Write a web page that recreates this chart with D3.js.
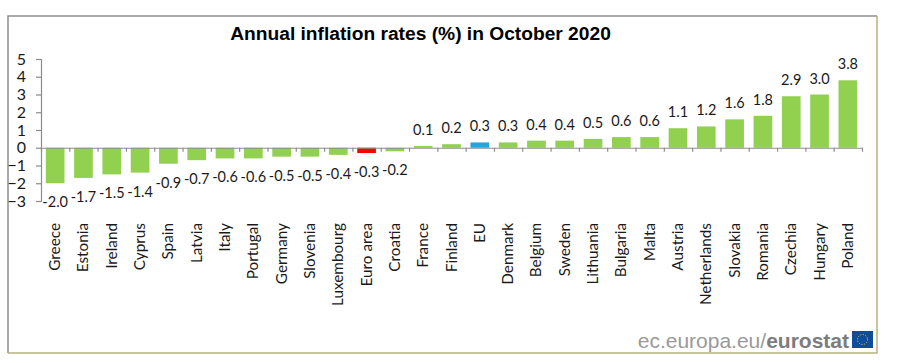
<!DOCTYPE html>
<html>
<head>
<meta charset="utf-8">
<script src="https://cdn.jsdelivr.net/npm/d3@7"></script>
<style>
    html, body { margin: 0; padding: 0; background: #fff; }
    svg { display: block; }
    .axis path, .axis line { stroke: #8c8c8c; stroke-width: 1.2; }
    .axis text, .bar-label, .cat-label { font-family: Lato, sans-serif; fill: #1a1a1a; }
</style>
</head>
<body>
<svg id="chart" width="900" height="363"></svg>
<script>
var countries = ["Greece", "Estonia", "Ireland", "Cyprus", "Spain", "Latvia", "Italy", "Portugal",
    "Germany", "Slovenia", "Luxembourg", "Euro area", "Croatia", "France", "Finland", "EU",
    "Denmark", "Belgium", "Sweden", "Lithuania", "Bulgaria", "Malta", "Austria", "Netherlands",
    "Slovakia", "Romania", "Czechia", "Hungary", "Poland"];
var rates = [-2.0, -1.7, -1.5, -1.4, -0.9, -0.7, -0.6, -0.6, -0.5, -0.5, -0.4, -0.3, -0.2,
    0.1, 0.2, 0.3, 0.3, 0.4, 0.4, 0.5, 0.6, 0.6, 1.1, 1.2, 1.6, 1.8, 2.9, 3.0, 3.8];
var yTicks = [-3, -2, -1, 0, 1, 2, 3, 4, 5];

var svg = d3.select("#chart");
var left = 41, right = 862, top_ = 59, bottom = 201;

// frame: grey on top/left, olive on right/bottom
svg.append("path").attr("d", "M8,353V16H877").attr("fill", "none").attr("stroke", "#8f8f8f").attr("stroke-width", 1.5);
svg.append("path").attr("d", "M877,16V353H8").attr("fill", "none").attr("stroke", "#b5b37e").attr("stroke-width", 1.5);

svg.append("text")
    .attr("x", 420.5).attr("y", 40)
    .attr("text-anchor", "middle")
    .style("font-family", "'Liberation Sans', Arial, sans-serif")
    .style("font-weight", "bold")
    .style("font-size", "19.2px")
    .text("Annual inflation rates (%)  in October 2020");

var xScale = d3.scaleBand().domain(countries).range([left, right]).paddingInner(0.34).paddingOuter(0.17);
var edgeScale = d3.scaleLinear().domain([0, countries.length]).range([left, right]);
var yScale = d3.scaleLinear().domain([-3, 5]).range([bottom, top_]);

// bars
svg.selectAll(".bar")
    .data(rates)
    .enter()
    .append("rect")
    .classed("bar", true)
    .attr("x", (d, i) => xScale(countries[i]))
    .attr("width", xScale.bandwidth())
    .attr("y", d => Math.min(yScale(d), yScale(0)))
    .attr("height", d => Math.abs(yScale(d) - yScale(0)))
    .attr("fill", (d, i) => countries[i] === "Euro area" ? "#ff0000" : countries[i] === "EU" ? "#1fa8dc" : "#92d050");

// y axis
svg.append("g")
    .classed("axis", true)
    .attr("transform", "translate(" + left + ",0)")
    .call(d3.axisLeft(yScale).tickValues(yTicks).tickSize(5).tickPadding(10).tickFormat(d3.format("d")))
    .selectAll("text")
    .style("font-size", "16px");

// x axis on the zero line, ticks between the categories
svg.append("g")
    .classed("axis", true)
    .attr("transform", "translate(0," + yScale(0) + ")")
    .call(d3.axisBottom(edgeScale).tickValues(d3.range(countries.length + 1)).tickSize(4).tickSizeOuter(0).tickFormat(""));

// value labels
svg.selectAll(".bar-label")
    .data(rates)
    .enter()
    .append("text")
    .classed("bar-label", true)
    .attr("x", (d, i) => xScale(countries[i]) + xScale.bandwidth() / 2)
    .attr("y", d => d < 0 ? yScale(d) + 24 : yScale(d) - 11)
    .attr("text-anchor", "middle")
    .style("font-size", "14.5px")
    .text(d => d3.format(".1f")(d).replace("−", "-"));

// category labels
svg.selectAll(".cat-label")
    .data(countries)
    .enter()
    .append("text")
    .classed("cat-label", true)
    .attr("transform", d => "translate(" + (xScale(d) + xScale.bandwidth() / 2 + 5) + ",223) rotate(-90)")
    .attr("text-anchor", "end")
    .style("font-size", "15.3px")
    .text(d => d);

// eurostat logo
var logo = svg.append("text")
    .attr("x", 849).attr("y", 348)
    .attr("text-anchor", "end")
    .style("font-family", "'Liberation Sans', Arial, sans-serif")
    .style("font-size", "21px")
    .style("fill", "#9a9a9a");
logo.append("tspan").text("ec.europa.eu/");
logo.append("tspan").style("font-weight", "bold").style("fill", "#7d7d7d").text("eurostat");

svg.append("rect").attr("x", 852).attr("y", 331).attr("width", 21).attr("height", 17).attr("fill", "#0f4c9c");
svg.append("circle").attr("cx", 862.5).attr("cy", 339.5).attr("r", 5)
    .attr("fill", "none").attr("stroke", "#e8d44a").attr("stroke-width", 1).attr("stroke-dasharray", "1 1.6");
</script>
</body>
</html>
